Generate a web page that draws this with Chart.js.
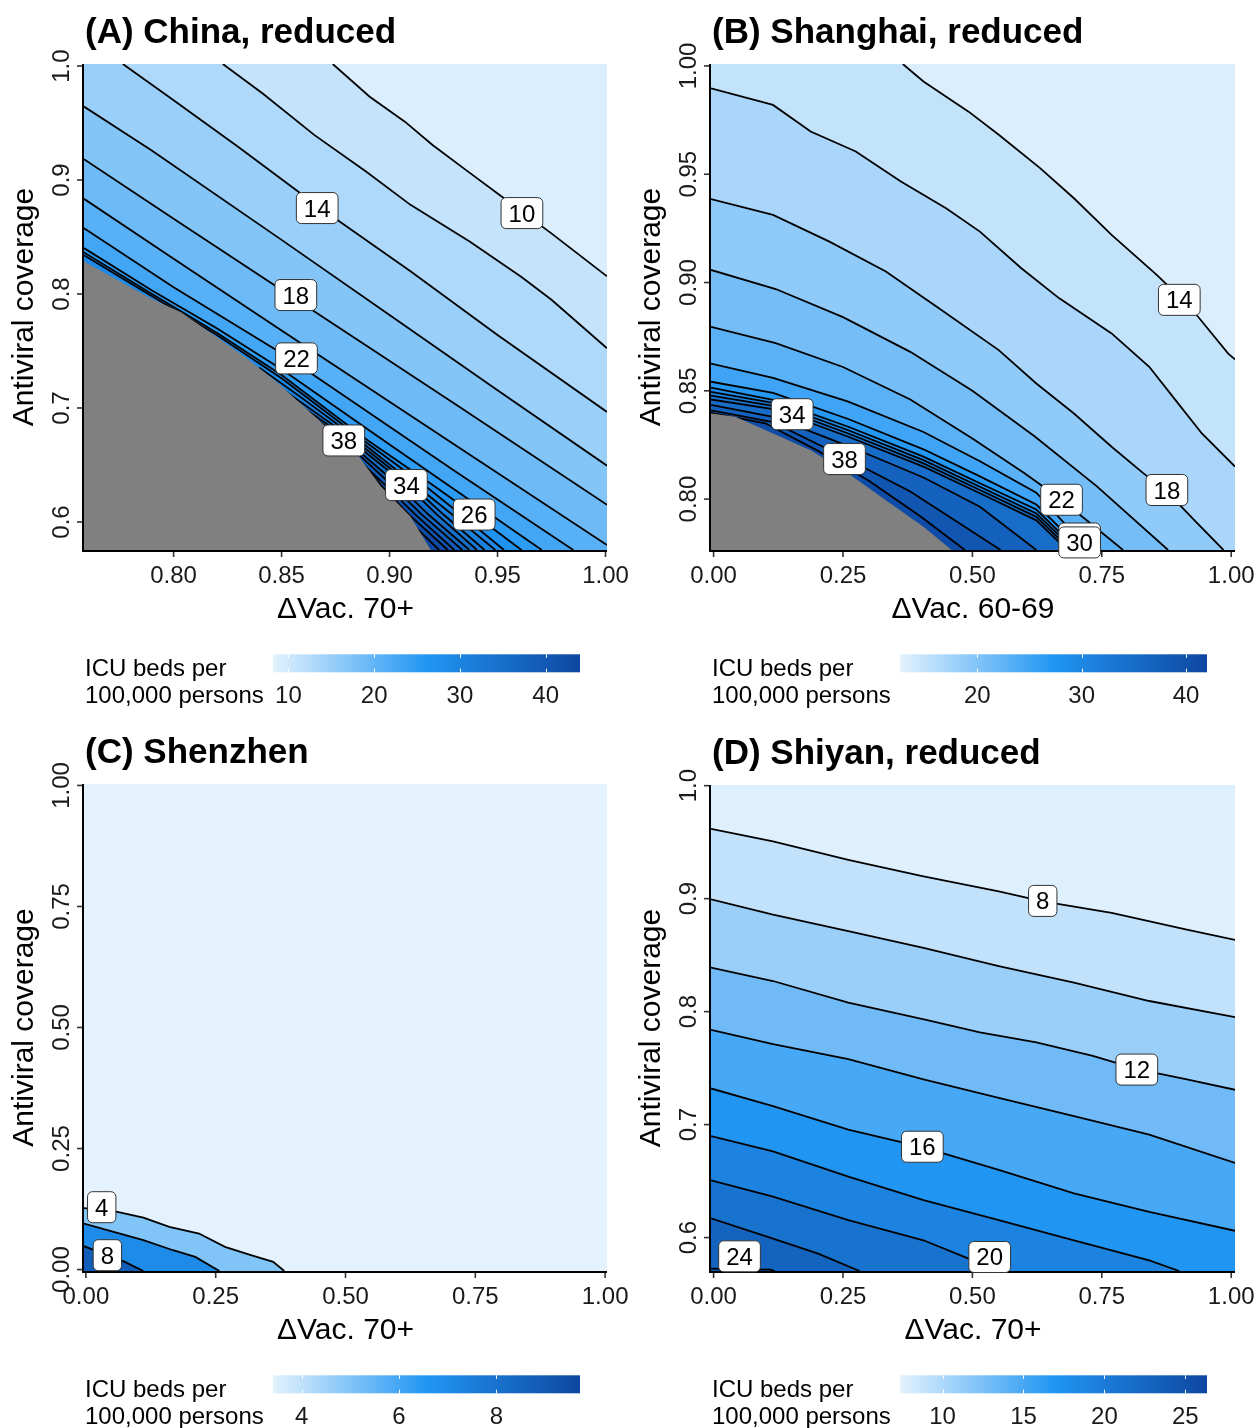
<!DOCTYPE html>
<html>
<head>
<meta charset="utf-8">
<script src="https://cdn.jsdelivr.net/npm/chart.js@4.4.1/dist/chart.umd.min.js"></script>
<style>
  html, body { margin: 0; padding: 0; background: #fff; }
  #wrap { position: relative; width: 1258px; height: 1428px; }
  canvas { position: absolute; }
</style>
</head>
<body>
<div id="wrap">
  <canvas id="chartA" width="629" height="720" style="left:0;top:0"></canvas>
  <canvas id="chartB" width="629" height="720" style="left:629px;top:0"></canvas>
  <canvas id="chartC" width="629" height="708" style="left:0;top:720px"></canvas>
  <canvas id="chartD" width="629" height="708" style="left:629px;top:720px"></canvas>
</div>
<script>
// shared fill scale (light -> mid -> dark blue)
const colourHex = ['#E3F2FD', '#2196F3', '#0D47A1'];
const colourPos = [0, 0.5, 1];

// ---------- (A) China, reduced ----------
const aXRange = [0.7585, 1.0007];
const aYRange = [0.5754, 1.0018];
const aXTicks = [0.80, 0.85, 0.90, 0.95, 1.00];
const aXTickLabels = ['0.80', '0.85', '0.90', '0.95', '1.00'];
const aYTicks = [0.6, 0.7, 0.8, 0.9, 1.0];
const aYTickLabels = ['0.6', '0.7', '0.8', '0.9', '1.0'];
const aFillRange = [8.2, 44.0];
const aBaseValue = 9.0;
const aLegendTicks = [10, 20, 30, 40];
const aLevels = [10, 12, 14, 16, 18, 20, 22, 24, 26, 28, 30, 32, 34, 36, 38, 40, 42, 44];
const aContours = [
  [[0.8737, 1.003], [0.8908, 0.9731], [0.9071, 0.9512], [0.9199, 0.9308], [0.9353, 0.9089], [0.9508, 0.887], [0.9748, 0.8534], [1.002, 0.8155]],
  [[0.8228, 1.003], [0.8411, 0.9761], [0.8651, 0.9396], [0.8891, 0.9074], [0.9097, 0.8782], [0.9371, 0.8461], [0.9611, 0.815], [0.975, 0.795], [1.002, 0.7524]],
  [[0.7765, 1.003], [0.80, 0.970], [0.83, 0.929], [0.8668, 0.877], [0.9097, 0.8199], [0.95, 0.764], [1.002, 0.6965]],
  [[0.7575, 0.9644], [0.7897, 0.9262], [0.85, 0.8475], [0.90, 0.7815], [0.95, 0.7155], [1.002, 0.6494]],
  [[0.7575, 0.9182], [0.80, 0.866], [0.8566, 0.7954], [0.93, 0.704], [1.002, 0.615]],
  [[0.7575, 0.8835], [0.80, 0.831], [0.85, 0.768], [0.93, 0.668], [1.002, 0.5797]],
  [[0.7575, 0.8578], [0.80, 0.806], [0.85, 0.748], [0.93, 0.645], [0.9851, 0.5745]],
  [[0.7575, 0.8403], [0.79, 0.803], [0.82, 0.770], [0.85, 0.734], [0.90, 0.668], [0.9705, 0.5745]],
  [[0.7575, 0.8365], [0.79, 0.800], [0.82, 0.766], [0.85, 0.729], [0.89, 0.6715], [0.92, 0.6324], [0.9392, 0.6065], [0.9611, 0.5745]],
  [[0.7575, 0.834], [0.79, 0.798], [0.82, 0.764], [0.85, 0.726], [0.888, 0.6715], [0.916, 0.6324], [0.933, 0.6065], [0.953, 0.5745]],
  [[0.7575, 0.70], [0.84, 0.735], [0.86, 0.708], [0.886, 0.6715], [0.912, 0.6324], [0.929, 0.6065], [0.949, 0.5745]],
  [[0.7575, 0.70], [0.85, 0.717], [0.884, 0.6715], [0.910, 0.6324], [0.925, 0.6065], [0.944, 0.5745]],
  [[0.7575, 0.70], [0.858, 0.703], [0.882, 0.6715], [0.9078, 0.6324], [0.922, 0.6065], [0.9405, 0.5745]],
  [[0.7575, 0.69], [0.866, 0.690], [0.880, 0.6715], [0.904, 0.6324], [0.918, 0.6065], [0.937, 0.5745]],
  [[0.7575, 0.68], [0.872, 0.680], [0.8788, 0.6715], [0.901, 0.6324], [0.915, 0.6065], [0.9337, 0.5745]],
  [[0.7575, 0.66], [0.878, 0.668], [0.898, 0.6324], [0.912, 0.6065], [0.930, 0.5745]],
  [[0.7575, 0.64], [0.886, 0.655], [0.896, 0.6324], [0.909, 0.6065], [0.927, 0.5745]],
  [[0.7575, 0.62], [0.898, 0.628], [0.906, 0.6065], [0.923, 0.5745]]
];
const aGray = [[0.7575, 0.8286], [0.7897, 0.7959], [0.8034, 0.7841], [0.8189, 0.7635], [0.8343, 0.7429], [0.848, 0.7224],
  [0.8617, 0.6988], [0.8737, 0.678], [0.8857, 0.6576], [0.896, 0.6312], [0.9097, 0.6047], [0.9191, 0.5745]];
const aLabels = [[0.9613, 0.871, '10'], [0.8665, 0.8754, '14'], [0.8566, 0.7991, '18'], [0.8569, 0.7435, '22'],
  [0.8788, 0.6715, '38'], [0.9078, 0.6324, '34'], [0.9392, 0.6065, '26']];

// ---------- (B) Shanghai, reduced ----------
const bXRange = [-0.005, 1.0073];
const bYRange = [0.7765, 1.0009];
const bXTicks = [0, 0.25, 0.5, 0.75, 1];
const bXTickLabels = ['0.00', '0.25', '0.50', '0.75', '1.00'];
const bYTicks = [0.80, 0.85, 0.90, 0.95, 1.00];
const bYTickLabels = ['0.80', '0.85', '0.90', '0.95', '1.00'];
const bFillRange = [12.6, 42.0];
const bBaseValue = 13.2;
const bLegendTicks = [20, 30, 40];
const bLevels = [14, 16, 18, 20, 22, 24, 26, 28, 30, 32, 34, 36, 38, 40];
const bContours = [
  [[0.3655, 1.002], [0.4055, 0.9928], [0.4927, 0.9789], [0.5509, 0.9682], [0.6308, 0.9528], [0.6962, 0.9389], [0.7689, 0.922], [0.8561, 0.9035], [0.90, 0.8935], [0.936, 0.8842], [0.9942, 0.8672], [1.008, 0.8645]],
  [[-0.006, 0.9897], [0.1148, 0.982], [0.1875, 0.9697], [0.2747, 0.9605], [0.3619, 0.9466], [0.4491, 0.9343], [0.5145, 0.9235], [0.5945, 0.9066], [0.6672, 0.8928], [0.7689, 0.8765], [0.8416, 0.8611], [0.8924, 0.8457], [0.9433, 0.8303], [1.008, 0.815]],
  [[-0.006, 0.9385], [0.1148, 0.9312], [0.2238, 0.9189], [0.3328, 0.9051], [0.4346, 0.8882], [0.5509, 0.8688], [0.6235, 0.8534], [0.6962, 0.8395], [0.7689, 0.8242], [0.83, 0.812], [0.8757, 0.8035], [0.93, 0.79], [0.985, 0.7758]],
  [[-0.006, 0.9058], [0.12, 0.897], [0.25, 0.884], [0.38, 0.868], [0.5, 0.850], [0.62, 0.829], [0.74, 0.806], [0.878, 0.7758]],
  [[-0.006, 0.8795], [0.12, 0.872], [0.25, 0.861], [0.38, 0.846], [0.5, 0.828], [0.6, 0.812], [0.6722, 0.7997], [0.791, 0.7758]],
  [[-0.006, 0.8626], [0.1148, 0.856], [0.2602, 0.845], [0.4055, 0.831], [0.5145, 0.8175], [0.6235, 0.803], [0.725, 0.7758]],
  [[-0.006, 0.8542], [0.1148, 0.849], [0.2602, 0.837], [0.4055, 0.823], [0.5145, 0.8105], [0.6235, 0.7975], [0.712, 0.7758]],
  [[-0.006, 0.8515], [0.1148, 0.8458], [0.2602, 0.8334], [0.4055, 0.8196], [0.5145, 0.8073], [0.6235, 0.7952], [0.703, 0.7758]],
  [[-0.006, 0.8495], [0.1148, 0.8444], [0.2602, 0.8318], [0.4055, 0.818], [0.5145, 0.8057], [0.6235, 0.7934], [0.697, 0.7758]],
  [[-0.006, 0.8478], [0.1148, 0.843], [0.2602, 0.8303], [0.4055, 0.8165], [0.5145, 0.8042], [0.6235, 0.7918], [0.690, 0.7758]],
  [[-0.006, 0.846], [0.1148, 0.8416], [0.2602, 0.8288], [0.4055, 0.815], [0.5145, 0.8027], [0.6235, 0.7902], [0.683, 0.7758]],
  [[-0.006, 0.8435], [0.1148, 0.838], [0.2602, 0.8245], [0.4055, 0.810], [0.5145, 0.7965], [0.6235, 0.7758]],
  [[-0.006, 0.841], [0.1148, 0.8355], [0.2529, 0.8192], [0.38, 0.8035], [0.48, 0.788], [0.5545, 0.7758]],
  [[-0.006, 0.8398], [0.1, 0.835], [0.2, 0.8225], [0.3, 0.8085], [0.4, 0.792], [0.4855, 0.7758]]
];
const bGray = [[-0.006, 0.8395], [0.042, 0.838], [0.1148, 0.8303], [0.1875, 0.8226], [0.2602, 0.8118], [0.3328, 0.7995], [0.4055, 0.7872], [0.46, 0.7758]];
const bLabels = [[0.8997, 0.892, '14'], [0.8757, 0.8042, '18'], [0.6722, 0.7997, '22'], [0.1519, 0.8392, '34'],
  [0.2529, 0.8185, '38'], [0.7071, 0.7818, '26'], [0.7071, 0.7800, '30']];

// ---------- (C) Shenzhen ----------
const cXRange = [-0.0036, 1.0036];
const cYRange = [-0.003, 1.003];
const cXTicks = [0, 0.25, 0.5, 0.75, 1];
const cXTickLabels = ['0.00', '0.25', '0.50', '0.75', '1.00'];
const cYTicks = [0, 0.25, 0.5, 0.75, 1];
const cYTickLabels = ['0.00', '0.25', '0.50', '0.75', '1.00'];
const cFillRange = [3.41, 9.72];
const cBaseValue = 3.41;
const cLegendTicks = [4, 6, 8];
const cLevels = [4, 6, 8];
const cContours = [
  [[-0.005, 0.127], [0.0607, 0.1191], [0.1107, 0.1074], [0.1607, 0.0882], [0.2179, 0.0744], [0.2679, 0.0468], [0.3179, 0.0296], [0.3607, 0.0158], [0.3821, -0.004]],
  [[-0.005, 0.095], [0.0536, 0.0778], [0.1107, 0.0606], [0.1679, 0.0399], [0.2107, 0.0262], [0.2571, -0.004]],
  [[-0.005, 0.0482], [0.0414, 0.0296], [0.075, 0.0158], [0.1107, -0.004]]
];
const cLabels = [[0.0305, 0.1288, '4'], [0.0414, 0.0296, '8']];

// ---------- (D) Shiyan, reduced ----------
const dXRange = [-0.005, 1.0073];
const dYRange = [0.5704, 1.0006];
const dXTicks = [0, 0.25, 0.5, 0.75, 1];
const dXTickLabels = ['0.00', '0.25', '0.50', '0.75', '1.00'];
const dYTicks = [0.6, 0.7, 0.8, 0.9, 1.0];
const dYTickLabels = ['0.6', '0.7', '0.8', '0.9', '1.0'];
const dFillRange = [7.37, 26.34];
const dBaseValue = 7.6;
const dLegendTicks = [10, 15, 20, 25];
const dLevels = [8, 10, 12, 14, 16, 18, 20, 22, 24];
const dContours = [
  [[-0.006, 0.9617], [0.1148, 0.9506], [0.2602, 0.9344], [0.4055, 0.9197], [0.5509, 0.9065], [0.636, 0.8976], [0.7689, 0.8874], [0.9142, 0.8726], [1.008, 0.8635]],
  [[-0.006, 0.8993], [0.1148, 0.8859], [0.2602, 0.8712], [0.4055, 0.8565], [0.5509, 0.8403], [0.6962, 0.8256], [0.8416, 0.8094], [1.008, 0.7952]],
  [[-0.006, 0.839], [0.1148, 0.8271], [0.2602, 0.8079], [0.4128, 0.7925], [0.5145, 0.7816], [0.6235, 0.7727], [0.7326, 0.7608], [0.8183, 0.749], [0.9142, 0.7401], [1.008, 0.7308]],
  [[-0.006, 0.7838], [0.1148, 0.7712], [0.2602, 0.7579], [0.4055, 0.7401], [0.5509, 0.7237], [0.6962, 0.7074], [0.8416, 0.6911], [1.008, 0.666]],
  [[-0.006, 0.732], [0.1148, 0.7163], [0.2602, 0.6955], [0.4033, 0.6801], [0.5509, 0.66], [0.6962, 0.6392], [0.8416, 0.6228], [1.008, 0.606]],
  [[-0.006, 0.6898], [0.1148, 0.6763], [0.2602, 0.654], [0.4055, 0.6332], [0.5509, 0.6154], [0.6962, 0.5976], [0.8416, 0.5798], [0.8997, 0.5698]],
  [[-0.006, 0.6506], [0.1148, 0.6362], [0.2602, 0.6154], [0.4055, 0.5976], [0.4927, 0.5813], [0.551, 0.5698]],
  [[-0.006, 0.617], [0.1148, 0.5991], [0.202, 0.5858], [0.282, 0.5698]],
  [[-0.006, 0.5725], [0.05, 0.572], [0.11, 0.5716], [0.118, 0.5698]]
];
const dLabels = [[0.6359, 0.898, '8'], [0.8176, 0.7487, '12'], [0.4033, 0.6804, '16'], [0.5334, 0.5828, '20'], [0.0501, 0.5834, '24']];

const FONT = '"Liberation Sans", Arial, Helvetica, sans-serif';

function hexRgb(h) {
  const n = parseInt(h.slice(1), 16);
  return [(n >> 16) & 255, (n >> 8) & 255, n & 255];
}

function fillColour(v, range) {
  const t = Math.max(0, Math.min(1, (v - range[0]) / (range[1] - range[0])));
  let i = 0;
  while (i < colourPos.length - 2 && t > colourPos[i + 1]) i++;
  const f = (t - colourPos[i]) / (colourPos[i + 1] - colourPos[i]);
  const a = hexRgb(colourHex[i]), b = hexRgb(colourHex[i + 1]);
  return 'rgb(' + a.map((c, k) => Math.round(c + (b[k] - c) * f)).join(',') + ')';
}

function makePanel(canvasId, p) {
  const [x0, x1] = p.xRange;
  const [y0, y1] = p.yRange;
  const clampPt = ([x, y]) => ({ x: Math.min(Math.max(x, x0), x1), y: Math.min(Math.max(y, y0), y1) });
  const datasets = [];

  // filled bands: region on the high side of each contour, painted low -> high
  p.contours.forEach((line, i) => {
    const hi = i + 1 < p.levels.length ? p.levels[i + 1] : p.fillRange[1];
    datasets.push({
      data: line.map(clampPt).concat([{ x: x1, y: y0 }, { x: x0, y: y0 }, { x: x0, y: y1 }]),
      fill: 'shape',
      backgroundColor: fillColour((p.levels[i] + hi) / 2, p.fillRange),
      borderColor: 'rgba(0,0,0,0)',
      borderWidth: 0,
      order: 500 - i
    });
  });

  // contour lines
  p.contours.forEach(line => {
    datasets.push({
      data: line.map(clampPt),
      fill: false,
      borderColor: '#000',
      borderWidth: 1.8,
      order: 20
    });
  });

  // region without results
  if (p.gray) {
    datasets.push({
      data: p.gray.map(clampPt).concat([{ x: x0, y: y0 }]),
      fill: 'shape',
      backgroundColor: '#808080',
      borderColor: 'rgba(0,0,0,0)',
      borderWidth: 0,
      order: 10
    });
  }

  const baseColour = fillColour(p.baseValue, p.fillRange);

  const decor = {
    id: 'decor',
    beforeDatasetsDraw(chart) {
      const { ctx, chartArea: a } = chart;
      ctx.save();
      ctx.fillStyle = baseColour;
      ctx.fillRect(a.left, a.top, a.right - a.left, a.bottom - a.top);
      ctx.restore();
    },
    afterDatasetsDraw(chart) {
      const { ctx, chartArea: a, scales } = chart;
      const xs = scales.x, ys = scales.y;
      ctx.save();

      // axis lines
      ctx.strokeStyle = '#000';
      ctx.lineWidth = 2;
      ctx.beginPath();
      ctx.moveTo(a.left - 1, a.top);
      ctx.lineTo(a.left - 1, a.bottom + 2);
      ctx.moveTo(a.left - 2, a.bottom + 1);
      ctx.lineTo(a.right, a.bottom + 1);
      ctx.stroke();

      // ticks + tick labels
      ctx.strokeStyle = '#333';
      ctx.lineWidth = 1.6;
      ctx.fillStyle = '#1a1a1a';
      ctx.font = '24px ' + FONT;
      ctx.textAlign = 'center';
      ctx.textBaseline = 'alphabetic';
      p.xTicks.forEach((v, i) => {
        const px = xs.getPixelForValue(v);
        ctx.beginPath();
        ctx.moveTo(px, a.bottom + 2);
        ctx.lineTo(px, a.bottom + 7);
        ctx.stroke();
        ctx.fillText(p.xTickLabels[i], px, a.bottom + 32.5);
      });
      p.yTicks.forEach((v, i) => {
        const py = ys.getPixelForValue(v);
        ctx.beginPath();
        ctx.moveTo(a.left - 2, py);
        ctx.lineTo(a.left - 7, py);
        ctx.stroke();
        ctx.save();
        ctx.translate(a.left - 15, py);
        ctx.rotate(-Math.PI / 2);
        ctx.fillText(p.yTickLabels[i], 0, 0);
        ctx.restore();
      });

      // axis titles
      ctx.fillStyle = '#000';
      ctx.font = '30px ' + FONT;
      ctx.fillText(p.xTitle, (a.left + a.right) / 2, a.bottom + 67.7);
      ctx.save();
      ctx.translate(a.left - 51.5, (a.top + a.bottom) / 2);
      ctx.rotate(-Math.PI / 2);
      ctx.fillText('Antiviral coverage', 0, 0);
      ctx.restore();

      // panel title
      ctx.textAlign = 'left';
      ctx.font = 'bold 35px ' + FONT;
      ctx.fillText(p.title, a.left + 1, a.top - 21.5);

      // colour bar legend
      const barL = a.left + 189, barR = a.left + 496;
      const barT = a.bottom + 104.3, barH = 18;
      const grad = ctx.createLinearGradient(barL, 0, barR, 0);
      colourHex.forEach((c, i) => grad.addColorStop(colourPos[i], c));
      ctx.fillStyle = grad;
      ctx.fillRect(barL, barT, barR - barL, barH);
      const lx = v => barL + (v - p.fillRange[0]) / (p.fillRange[1] - p.fillRange[0]) * (barR - barL);
      ctx.strokeStyle = '#fff';
      ctx.lineWidth = 1;
      ctx.fillStyle = '#1a1a1a';
      ctx.font = '24px ' + FONT;
      ctx.textAlign = 'center';
      p.legendTicks.forEach(v => {
        const px = Math.round(lx(v)) + 0.5;
        ctx.beginPath();
        ctx.moveTo(px, barT);
        ctx.lineTo(px, barT + 3.6);
        ctx.moveTo(px, barT + barH - 3.6);
        ctx.lineTo(px, barT + barH);
        ctx.stroke();
        ctx.fillText(String(v), lx(v), a.bottom + 152.5);
      });
      ctx.fillStyle = '#000';
      ctx.textAlign = 'left';
      ctx.fillText('ICU beds per', a.left + 1, a.bottom + 125.7);
      ctx.fillText('100,000 persons', a.left + 1, a.bottom + 152.5);

      // contour labels
      ctx.font = '24px ' + FONT;
      ctx.textAlign = 'center';
      p.labels.forEach(([x, y, t]) => {
        const px = xs.getPixelForValue(x), py = ys.getPixelForValue(y);
        const w = ctx.measureText(t).width + 15, h = 31;
        ctx.beginPath();
        ctx.roundRect(px - w / 2, py - h / 2, w, h, 5);
        ctx.fillStyle = '#fff';
        ctx.fill();
        ctx.strokeStyle = '#333';
        ctx.lineWidth = 1;
        ctx.stroke();
        ctx.fillStyle = '#000';
        ctx.fillText(t, px, py + 8.5);
      });
      ctx.restore();
    }
  };

  return new Chart(document.getElementById(canvasId), {
    type: 'line',
    data: { datasets },
    options: {
      responsive: false,
      animation: false,
      events: [],
      layout: { padding: p.pad },
      elements: { point: { radius: 0, hoverRadius: 0 }, line: { tension: 0 } },
      scales: {
        x: { type: 'linear', display: false, min: x0, max: x1 },
        y: { type: 'linear', display: false, min: y0, max: y1 }
      },
      plugins: { legend: { display: false }, tooltip: { enabled: false } }
    },
    plugins: [decor]
  });
}

makePanel('chartA', {
  title: '(A) China, reduced', xTitle: '\u0394Vac. 70+',
  xRange: aXRange, yRange: aYRange, xTicks: aXTicks, xTickLabels: aXTickLabels, yTicks: aYTicks, yTickLabels: aYTickLabels,
  levels: aLevels, contours: aContours, gray: aGray, labels: aLabels, fillRange: aFillRange, baseValue: aBaseValue,
  legendTicks: aLegendTicks, pad: { left: 84, top: 64, right: 22, bottom: 170 }
});
makePanel('chartB', {
  title: '(B) Shanghai, reduced', xTitle: '\u0394Vac. 60-69',
  xRange: bXRange, yRange: bYRange, xTicks: bXTicks, xTickLabels: bXTickLabels, yTicks: bYTicks, yTickLabels: bYTickLabels,
  levels: bLevels, contours: bContours, gray: bGray, labels: bLabels, fillRange: bFillRange, baseValue: bBaseValue,
  legendTicks: bLegendTicks, pad: { left: 82, top: 64, right: 23, bottom: 170 }
});
makePanel('chartC', {
  title: '(C) Shenzhen', xTitle: '\u0394Vac. 70+',
  xRange: cXRange, yRange: cYRange, xTicks: cXTicks, xTickLabels: cXTickLabels, yTicks: cYTicks, yTickLabels: cYTickLabels,
  levels: cLevels, contours: cContours, gray: null, labels: cLabels, fillRange: cFillRange, baseValue: cBaseValue,
  legendTicks: cLegendTicks, pad: { left: 84, top: 64, right: 22, bottom: 157 }
});
makePanel('chartD', {
  title: '(D) Shiyan, reduced', xTitle: '\u0394Vac. 70+',
  xRange: dXRange, yRange: dYRange, xTicks: dXTicks, xTickLabels: dXTickLabels, yTicks: dYTicks, yTickLabels: dYTickLabels,
  levels: dLevels, contours: dContours, gray: null, labels: dLabels, fillRange: dFillRange, baseValue: dBaseValue,
  legendTicks: dLegendTicks, pad: { left: 82, top: 65, right: 23, bottom: 157 }
});
</script>
</body>
</html>
